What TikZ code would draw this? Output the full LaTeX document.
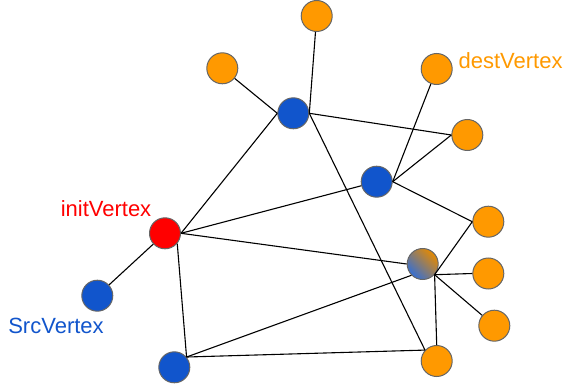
\documentclass[tikz,border=0pt]{standalone}
\usepackage{fontspec}
\setmainfont{Liberation Sans}
\usepackage{tikz}
\usetikzlibrary{arrows,calc,positioning}

\definecolor{vorange}{HTML}{FF9900}
\definecolor{vblue}{HTML}{1155CC}
\definecolor{vred}{HTML}{FF0000}
\definecolor{vborder}{HTML}{666666}

\tikzset{
	vert/.style={circle,draw=vborder,line width=1pt,minimum size=31pt,inner sep=0pt},
	overt/.style={vert,fill=vorange},
	bvert/.style={vert,fill=vblue},
	rvert/.style={vert,fill=vred},
	gvert/.style={vert,top color=vorange!90!black,bottom color=vblue!85!white,shading angle=-45},
	vlabel/.style={font=\fontsize{22}{26}\selectfont,inner sep=0pt}
}

\begin{document}
\begin{tikzpicture}[x=1pt,y=-1pt,line width=1.1pt]
		\useasboundingbox (0,0) rectangle (564,387);
		\node[overt] (o_top) at (316.7,16) {};
		\node[overt] (o_left) at (222.3,68.3) {};
		\node[overt] (o_dest) at (436.7,69) {};
		\node[bvert] (b_up) at (293.3,113.3) {};
		\node[overt] (o_r1) at (467.3,135) {};
		\node[bvert] (b_mid) at (376.7,181.7) {};
		\node[overt] (o_r2) at (488.3,221.7) {};
		\node[rvert] (v_init) at (165,233.3) {};
		\node[gvert] (v_grad) at (422.7,264) {};
		\node[overt] (o_r3) at (488.3,273.5) {};
		\node[overt] (o_r4) at (494.3,325.7) {};
		\node[bvert] (v_src) at (97.3,295.7) {};
		\node[bvert] (b_low) at (174.3,367.3) {};
		\node[overt] (o_low) at (436.7,361) {};
		\node[vlabel,text=vred] (l_init) at (106,209) {initVertex};
		\node[vlabel,text=vblue] (l_src) at (56,326) {SrcVertex};
		\node[vlabel,text=vorange,anchor=west] (l_dest) at (458,61) {destVertex};
		\path[draw]
			(o_top) edge (b_up.east)
			(o_left) edge (b_up.west)
			(b_up.east) edge (o_r1.west)
			(b_up.east) edge (o_low.137)
			(b_up.west) edge (v_init.east)
			(o_dest) edge (b_mid.east)
			(b_mid.east) edge (o_r1.west)
			(b_mid.east) edge (o_r2.west)
			(b_mid) edge (v_init.east)
			(v_init.east) edge (v_grad.west)
			(v_init) edge (v_src)
			(v_init.-40) edge (b_low.40)
			(v_grad.-42) edge (o_r2.west)
			(v_grad.-42) edge (o_r3.west)
			(v_grad.-42) edge (o_r4)
			(v_grad.-135) edge (b_low.40)
			(v_grad.-42) edge (o_low.north)
			(b_low.40) edge (o_low.137);
	\end{tikzpicture}
\end{document}
